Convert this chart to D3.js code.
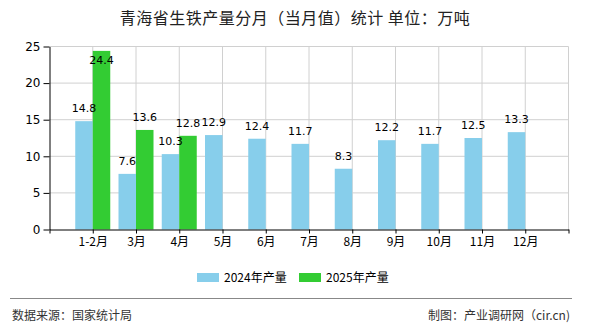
<!DOCTYPE html>
<html><head><meta charset="utf-8">
<script src="https://cdn.jsdelivr.net/npm/d3@7"></script>
<style>
html,body{margin:0;padding:0;background:#fff;}
svg{display:block;}
</style></head>
<body>
<svg id="chart" width="590" height="330"></svg>
<script>
const categories = ["1-2月","3月","4月","5月","6月","7月","8月","9月","10月","11月","12月"];
const values2024 = [14.8, 7.6, 10.3, 12.9, 12.4, 11.7, 8.3, 12.2, 11.7, 12.5, 13.3];
const values2025 = [24.4, 13.6, 12.8, null, null, null, null, null, null, null, null];
const seriesNames = ["2024年产量", "2025年产量"];
const seriesColors = ["#87CEEB", "#33CC33"];
const yTicks = [0, 5, 10, 15, 20, 25];
const titleText = "青海省生铁产量分月（当月值）统计 单位：万吨";
const sourceText = "数据来源：国家统计局";
const makerText = "制图：产业调研网（cir.cn)";

(function () {
const svg = d3.select("#chart");
const cjk = "'Noto Sans CJK SC', 'DejaVu Sans', sans-serif";
const num = "'DejaVu Sans', sans-serif";

const pL = 49.5, pR = 568.5, pT = 46.5, pB = 229.5;
const x = d3.scalePoint().domain(["__s", ...categories, "__e"]).range([pL, pR]);
const y = d3.scaleLinear().domain([0, 25]).range([pB, pT]);
const barW = 17.5;

svg.append("text").attr("x", 295).attr("y", 24).attr("text-anchor", "middle")
  .attr("font-family", cjk).attr("font-size", 16).attr("letter-spacing", 0.5)
  .attr("fill", "#222").text(titleText);

const grid = svg.append("g");
grid.selectAll("line.h").data(yTicks.filter(d => d > 0)).join("line")
  .attr("x1", pL).attr("x2", pR).attr("y1", d => y(d)).attr("y2", d => y(d))
  .attr("stroke", "#d0d0d0").attr("stroke-width", 1);
grid.selectAll("line.v").data(x.domain().slice(1)).join("line")
  .attr("x1", d => x(d)).attr("x2", d => x(d)).attr("y1", pT).attr("y2", pB)
  .attr("stroke", "#d0d0d0").attr("stroke-width", 1);

const series = [values2024, values2025];
const barLayer = svg.append("g");
const labelLayer = svg.append("g");
series.forEach((vals, si) => {
  const data = categories.map((c, i) => ({c, v: vals[i]})).filter(d => d.v != null);
  barLayer.append("g").selectAll("rect").data(data).join("rect")
    .attr("x", d => si === 0 ? x(d.c) - barW : x(d.c))
    .attr("width", barW)
    .attr("y", d => y(d.v)).attr("height", d => y(0) - y(d.v))
    .attr("fill", seriesColors[si]);
  labelLayer.append("g").selectAll("text").data(data).join("text")
    .attr("x", d => (si === 0 ? x(d.c) - barW / 2 : x(d.c) + barW / 2))
    .attr("y", d => Math.max(y(d.v) - 9, pT + 17))
    .attr("text-anchor", "middle").attr("font-family", num).attr("font-size", 11)
    .attr("fill", "#000").text(d => d.v.toFixed(1));
});

const yAxis = d3.axisLeft(y).tickValues(yTicks).tickSize(6).tickPadding(3).tickSizeOuter(0);
const ga = svg.append("g").attr("transform", `translate(${pL},0)`).call(yAxis);
ga.select(".domain").attr("stroke", "#000");
ga.selectAll(".tick line").attr("stroke", "#000");
ga.selectAll(".tick text").attr("font-family", num).attr("font-size", 12).attr("fill", "#000");

const xAxis = d3.axisBottom(x).tickSize(4).tickPadding(4).tickSizeOuter(0)
  .tickFormat(d => d.startsWith("__") ? "" : d);
const gx = svg.append("g").attr("transform", `translate(0,${pB})`).call(xAxis);
gx.select(".domain").attr("stroke", "#000");
gx.selectAll(".tick line").attr("stroke", "#000");
gx.selectAll(".tick text").attr("font-family", cjk).attr("font-size", 12).attr("fill", "#000");

const legendX = [197, 299];
seriesNames.forEach((n, i) => {
  svg.append("rect").attr("x", legendX[i]).attr("y", 273).attr("width", 22).attr("height", 9)
    .attr("fill", seriesColors[i]);
  svg.append("text").attr("x", legendX[i] + 27).attr("y", 282)
    .attr("font-family", cjk).attr("font-size", 12).attr("fill", "#000").text(n);
});

svg.append("line").attr("x1", 10).attr("x2", 572).attr("y1", 298.5).attr("y2", 298.5)
  .attr("stroke", "#888").attr("stroke-width", 1);
svg.append("text").attr("x", 12).attr("y", 320).attr("font-family", cjk).attr("font-size", 12)
  .attr("fill", "#333").text(sourceText);
svg.append("text").attr("x", 570).attr("y", 320).attr("text-anchor", "end").attr("font-family", cjk)
  .attr("font-size", 12).attr("fill", "#333").text(makerText);
})();
</script>
</body></html>
